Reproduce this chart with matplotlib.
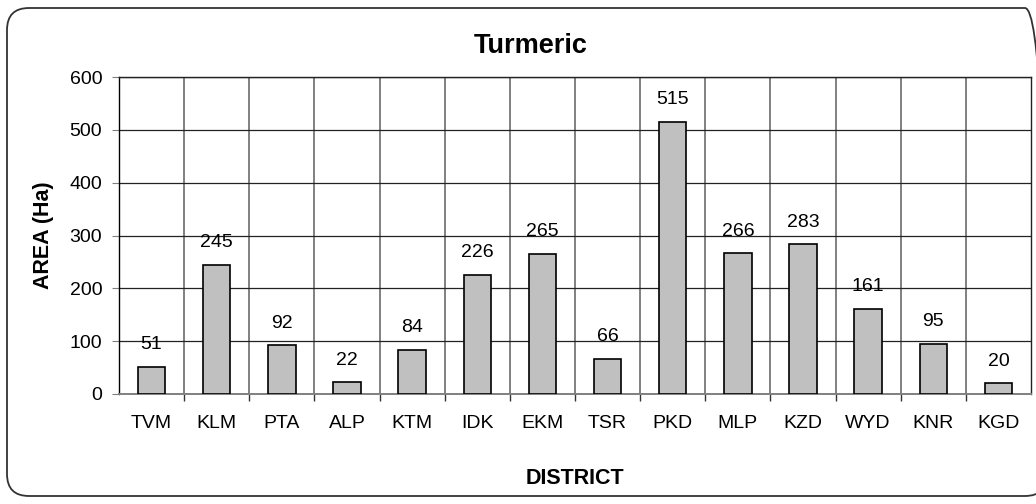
import numpy as np
import matplotlib.pyplot as plt
from matplotlib.patches import FancyBboxPatch
from matplotlib.ticker import FixedLocator

plt.rcParams['font.family'] = ['Liberation Sans', 'DejaVu Sans']

# Data
districts = ['TVM', 'KLM', 'PTA', 'ALP', 'KTM', 'IDK', 'EKM', 'TSR', 'PKD', 'MLP',
             'KZD', 'WYD', 'KNR', 'KGD']
area = [51, 245, 92, 22, 84, 226, 265, 66, 515, 266, 283, 161, 95, 20]
yticks = [0, 100, 200, 300, 400, 500, 600]

W, H = 1036, 504
fig = plt.figure(figsize=(W / 100, H / 100), dpi=100)
ax = fig.add_axes([119 / W, 1 - 394 / H, (1031 - 119) / W, (394 - 77) / H])

# rounded frame round the whole chart (pixel coords)
frame = FancyBboxPatch((7, 8), 1040, 488, boxstyle='round,pad=0,rounding_size=22',
                       transform=None, fill=False, edgecolor='#333333',
                       linewidth=1.3, clip_on=False)
fig.patches.append(frame)

x = np.arange(len(districts))
ax.bar(x, area, width=0.42, color='#C0C0C0', edgecolor='black', linewidth=1.2, zorder=3)

for xi, v in zip(x, area):
    ax.annotate(str(v), (xi, v), xytext=(0, 16), textcoords='offset points',
                ha='center', va='center', fontsize=14, zorder=4)

ax.set_xlim(-0.5, len(districts) - 0.5)
ax.set_ylim(0, 600)
ax.set_yticks(yticks)
ax.set_xticks(x)
ax.set_xticklabels(districts)
ax.xaxis.set_minor_locator(FixedLocator(np.arange(0.5, len(districts) - 1, 1)))

ax.grid(axis='y', color='#222222', linewidth=0.9, zorder=0)
ax.grid(axis='x', which='minor', color='#808080', linewidth=1.4, zorder=0)
ax.tick_params(axis='x', which='major', length=0, pad=15, labelsize=14)
ax.tick_params(axis='x', which='minor', length=5, width=1.0, color='#333333')
ax.tick_params(axis='y', length=5, color='#808080', labelsize=14, pad=7)

ax.spines['left'].set_color('black')
ax.spines['top'].set_color('#222222')
ax.spines['right'].set_color('#222222')
ax.spines['bottom'].set_color('#808080')
ax.spines['bottom'].set_linewidth(1.4)
for s in ['left', 'top', 'right']:
    ax.spines[s].set_linewidth(1.0)

fig.text(531 / W, 1 - 46 / H, 'Turmeric', fontsize=19.5, fontweight='bold',
         ha='center', va='center')
fig.text(575 / W, 1 - 479 / H, 'DISTRICT', fontsize=15.5, fontweight='bold',
         ha='center', va='center')
fig.text(44 / W, 1 - 235 / H, 'AREA (Ha)', fontsize=15.5, fontweight='bold',
         rotation=90, ha='center', va='center')

fig.savefig('out.png', dpi=100)
